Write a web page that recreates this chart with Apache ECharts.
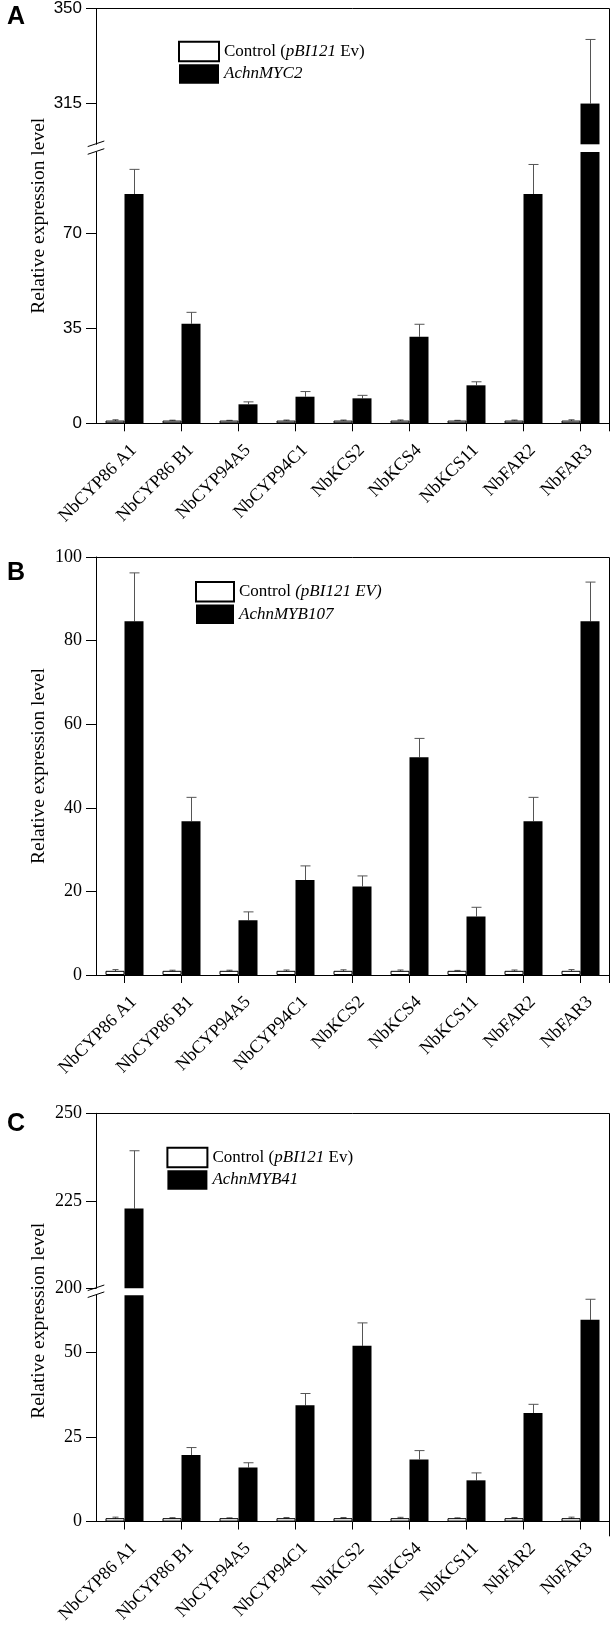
<!DOCTYPE html>
<html><head><meta charset="utf-8">
<script src="https://cdn.jsdelivr.net/npm/echarts@6/dist/echarts.min.js"></script>
<style>html,body{margin:0;padding:0;background:#fff}#c{width:614px;height:1626px}</style>
</head><body><div id="c"></div>
<script>
// ---------------- DATA ----------------
const categories = ['NbCYP86 A1','NbCYP86 B1','NbCYP94A5','NbCYP94C1','NbKCS2','NbKCS4','NbKCS11','NbFAR2','NbFAR3'];

// Panel A
const namesA = ['Control (pBI121 Ev)', 'AchnMYC2'];
const controlA = [1, 1, 1, 1, 1, 1, 1, 1, 1];
const controlErrA = [0.3, 0.15, 0.1, 0.2, 0.2, 0.25, 0.1, 0.2, 0.3];
const treatA = [84.5, 36.7, 7.0, 9.8, 9.2, 31.9, 14.0, 84.5, 315];
const treatErrA = [9.1, 4.2, 0.9, 1.9, 1.1, 4.6, 1.3, 10.9, 23.6];
const rangeA_low = [0, 100], rangeA_up = [300, 350];
const ticksA_low = [0, 35, 70], ticksA_up = [315, 350];

// Panel B
const namesB = ['Control (pBI121 EV)', 'AchnMYB107'];
const controlB = [1, 1, 1, 1, 1, 1, 1, 1, 1];
const controlErrB = [0.3, 0.15, 0.15, 0.2, 0.25, 0.2, 0.1, 0.2, 0.3];
const treatB = [84.6, 36.8, 13.1, 22.7, 21.2, 52.1, 14.0, 36.8, 84.6];
const treatErrB = [11.6, 5.7, 2.0, 3.4, 2.5, 4.5, 2.2, 5.7, 9.4];
const rangeB = [0, 100];
const ticksB = [0, 20, 40, 60, 80, 100];

// Panel C
const namesC = ['Control (pBI121 Ev)', 'AchnMYB41'];
const controlC = [1, 1, 1, 1, 1, 1, 1, 1, 1];
const controlErrC = [0.3, 0.15, 0.1, 0.2, 0.2, 0.25, 0.1, 0.2, 0.3];
const treatC = [222.8, 19.7, 16.0, 34.4, 52.0, 18.4, 12.2, 32.1, 59.7];
const treatErrC = [16.5, 2.2, 1.4, 3.5, 6.8, 2.6, 2.2, 2.6, 6.1];
const rangeC_low = [0, 67], rangeC_up = [200, 250];
const ticksC_low = [0, 25, 50], ticksC_up = [200, 225, 250];

// ---------------- LAYOUT / STYLE ----------------
const SERIF = 'Liberation Serif', SANS = 'Liberation Sans';
const LEFT = 96, RIGHT_X = 609;
const BAR_W = 19, CAP = 10;
const ERR_COLOR = '#555';

const gridDefs = [
  {top: 8.3, height: 136, range: rangeA_up, ticks: ticksA_up, showX: false, font: SANS, fs: 17},
  {top: 152, height: 271.3, range: rangeA_low, ticks: ticksA_low, showX: true, font: SANS, fs: 17},
  {top: 557, height: 418, range: rangeB, ticks: ticksB, showX: true, font: SERIF, fs: 18},
  {top: 1113.3, height: 175, range: rangeC_up, ticks: ticksC_up, showX: false, font: SERIF, fs: 18},
  {top: 1295.2, height: 233.1, range: rangeC_low, ticks: ticksC_low, showX: true, font: SERIF, fs: 18}
];
const panelData = [
  {grids: [0, 1], names: namesA, ctrl: controlA, ctrlErr: controlErrA, tr: treatA, trErr: treatErrA},
  {grids: [2], names: namesB, ctrl: controlB, ctrlErr: controlErrB, tr: treatB, trErr: treatErrB},
  {grids: [3, 4], names: namesC, ctrl: controlC, ctrlErr: controlErrC, tr: treatC, trErr: treatErrC}
];

const grid = gridDefs.map(g => ({left: LEFT, right: 614 - RIGHT_X, top: g.top, height: g.height, containLabel: false}));

const xAxis = gridDefs.map((g, i) => ({
  type: 'category', gridIndex: i, data: categories, show: g.showX,
  axisLine: {show: true, lineStyle: {color: '#000', width: 1}},
  axisTick: {show: true, alignWithLabel: true, length: 8, lineStyle: {color: '#000'}},
  axisLabel: {show: true, interval: 0, rotate: 45, margin: 15, verticalAlign: 'top', padding: [4, 0, 0, 0],
    fontFamily: SERIF, fontSize: 18, color: '#000'},
  splitLine: {show: false}
}));

const yAxis = gridDefs.map((g, i) => ({
  type: 'value', gridIndex: i, min: g.range[0], max: g.range[1],
  axisLine: {show: true, lineStyle: {color: '#000', width: 1}},
  axisTick: {show: true, length: 10, lineStyle: {color: '#000'}, customValues: g.ticks},
  axisLabel: {show: true, margin: 14, fontFamily: g.font, fontSize: g.fs, color: '#000', customValues: g.ticks},
  splitLine: {show: false}
}));

function errorSeries(gi, vals, errs, side, symmetric) {
  return {
    type: 'custom', xAxisIndex: gi, yAxisIndex: gi, clip: true, silent: true,
    encode: {x: 0, y: 1},
    data: vals.map((v, i) => [i, v, errs[i]]),
    renderItem: function (params, api) {
      const i = api.value(0), v = api.value(1), e = api.value(2);
      const base = api.coord([i, symmetric ? v - e : v]);
      const top = api.coord([i, v + e]);
      const x = Math.round(base[0] + side * BAR_W / 2) + 0.5;
      const st = {stroke: ERR_COLOR, lineWidth: 1};
      const cw = symmetric ? 6 : CAP;
      const ch = [
        {type: 'line', shape: {x1: x, y1: base[1], x2: x, y2: top[1]}, style: st},
        {type: 'line', shape: {x1: x - cw / 2, y1: top[1], x2: x + cw / 2, y2: top[1]}, style: st}
      ];
      if (symmetric) ch.push({type: 'line', shape: {x1: x - cw / 2, y1: base[1], x2: x + cw / 2, y2: base[1]}, style: st});
      return {type: 'group', children: ch};
    }
  };
}

const series = [];
panelData.forEach(p => {
  p.grids.forEach(gi => {
    const lo = gridDefs[gi].range[0];
    series.push({
      type: 'bar', name: p.names[0], xAxisIndex: gi, yAxisIndex: gi, barWidth: BAR_W, barGap: '0%',
      itemStyle: {color: '#fff', borderColor: '#000', borderWidth: 1},
      data: p.ctrl.map(v => (v > lo ? v : null))
    });
    series.push({
      type: 'bar', name: p.names[1], xAxisIndex: gi, yAxisIndex: gi, barWidth: BAR_W, barGap: '0%',
      itemStyle: {color: '#000'},
      data: p.tr.map(v => (v > lo ? v : null))
    });
    series.push(errorSeries(gi, p.tr, p.trErr, 1, false));
    series.push(errorSeries(gi, p.ctrl, p.ctrlErr, -1, true));
  });
});

function legendFmt(name) {
  if (name === 'Control (pBI121 EV)') return '{n|Control }{i|(pBI121 EV)}';
  if (name.indexOf('Control') === 0) return '{n|Control (}{i|pBI121}{n| Ev)}';
  return '{i|' + name + '}';
}
const ITALIC = '"Liberation Serif", serif';
const legendPos = [{left: 178, top: 40.7, w: 40}, {left: 195, top: 581, w: 38}, {left: 166.4, top: 1146.7, w: 40}];
const legend = panelData.map((p, k) => ({
  data: p.names, orient: 'vertical', left: legendPos[k].left, top: legendPos[k].top,
  itemWidth: legendPos[k].w, itemHeight: 19.5, itemGap: 2, icon: 'rect', selectedMode: false,
  padding: 0, formatter: legendFmt,
  textStyle: {fontFamily: SERIF, fontSize: 17, color: '#000', rich: {
    n: {fontFamily: SERIF, fontSize: 17, color: '#000', lineHeight: 19},
    i: {fontFamily: ITALIC, fontSize: 17, color: '#000', fontStyle: 'italic', lineHeight: 19}
  }}
}));

const graphic = [];
const line = (x1, y1, x2, y2) => ({type: 'line', shape: {x1, y1, x2, y2}, style: {stroke: '#000', lineWidth: 1}, silent: true});
const panelsFrame = [[0, 1], [2, 2], [3, 4]];
const letters = ['A', 'B', 'C'];
const letterY = [17.5, 573.5, 1124.5];
panelsFrame.forEach((pf, k) => {
  const top = Math.round(gridDefs[pf[0]].top) + 0.5;
  const bot = gridDefs[pf[1]].top + gridDefs[pf[1]].height;
  graphic.push(line(LEFT, top, RIGHT_X + 0.5, top));
  graphic.push(line(RIGHT_X + 0.5, top, RIGHT_X + 0.5, bot + 8));
  graphic.push({type: 'text', x: 38.5, y: (gridDefs[pf[0]].top + bot) / 2, rotation: Math.PI / 2, silent: true,
    style: {text: 'Relative expression level', font: '19.5px "Liberation Serif"', fill: '#000', align: 'center', verticalAlign: 'middle'}});
  graphic.push({type: 'text', x: 7, y: letterY[k], silent: true,
    style: {text: letters[k], font: 'bold 25px "Liberation Sans"', fill: '#000', align: 'left', verticalAlign: 'middle'}});
  if (pf[0] !== pf[1]) {
    const yu = gridDefs[pf[0]].top + gridDefs[pf[0]].height - 0.5;
    const yl = gridDefs[pf[1]].top - 0.5;
    graphic.push(line(LEFT - 8.3, yu + 2.8, LEFT + 8.3, yu - 2.8));
    graphic.push(line(LEFT - 8.3, yl + 2.8, LEFT + 8.3, yl - 2.8));
  }
});

const chart = echarts.init(document.getElementById('c'), null, {renderer: 'canvas'});
chart.setOption({animation: false, backgroundColor: '#fff', grid, xAxis, yAxis, series, legend, graphic});
</script></body></html>
